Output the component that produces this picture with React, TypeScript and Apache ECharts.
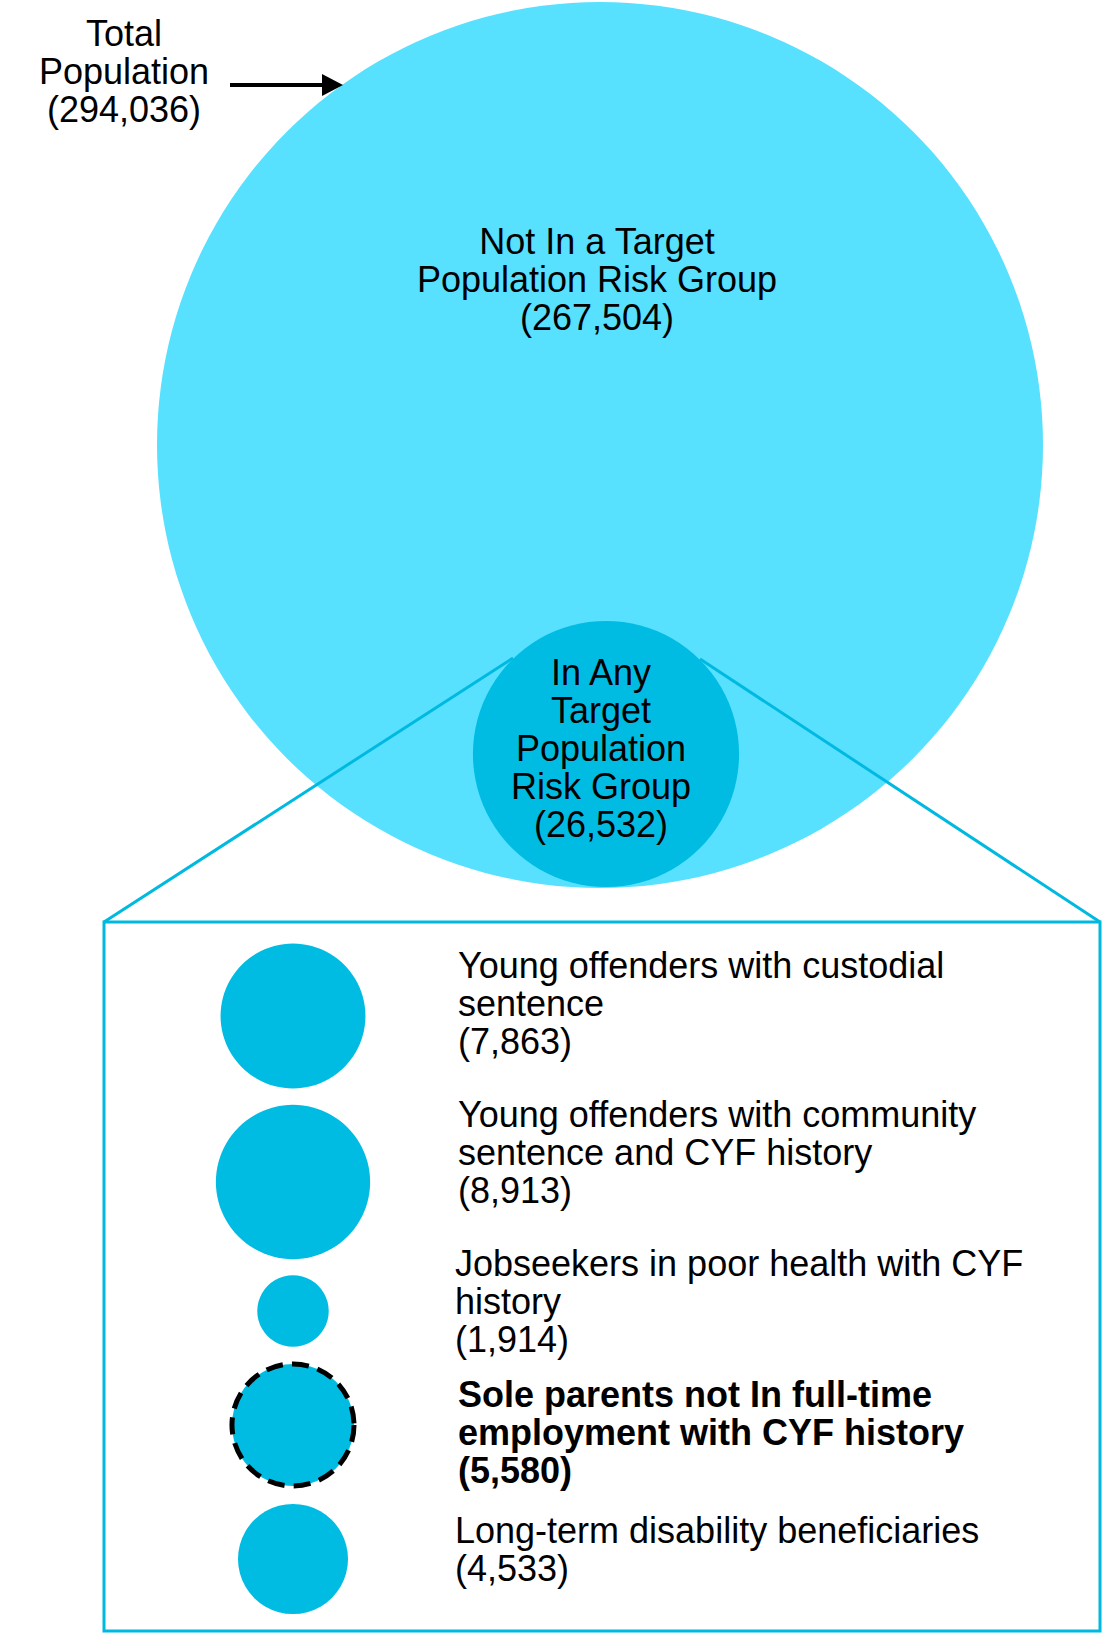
import React, { useEffect, useRef } from "react";
import * as echarts from "echarts";

// ---- data ----
const totalPopulation = 294036;
const notInTargetGroup = 267504;
const inAnyTargetGroup = 26532;
const groupLabels = [
  ["Young offenders with custodial", "sentence"],
  ["Young offenders with community", "sentence and CYF history"],
  ["Jobseekers in poor health with CYF", "history"],
  ["Sole parents not In full-time", "employment with CYF history"],
  ["Long-term disability beneficiaries"],
];
const groupValues = [7863, 8913, 1914, 5580, 4533];
const highlightedGroup = 3;

// ---- layout ----
const W = 1102;
const H = 1633;
const BIG_R = 443;
const K = BIG_R / Math.sqrt(totalPopulation);
const bigCenter = [600, 445];
const smallCenter = [606, 754];
const legendCx = 293;
const legendCy = [1016, 1182, 1311, 1425, 1559];
const legendTextX = [458, 458, 455, 458, 455];
const legendBaseline = [978, 1127, 1276, 1407, 1543];

const FS = 36;
const LH = 38;
const FONT = '"Liberation Sans", Arial, sans-serif';
const fmt = (v: number) => v.toLocaleString("en-US");

function textEl(x: number, baseline: number, lines: string[], align: string, bold = false) {
  const y = baseline - LH / 2 - 12.5;
  return {
    type: "text",
    z: 10,
    silent: true,
    style: {
      text: lines.join("\n"),
      x,
      y,
      font: `${bold ? "bold " : ""}${FS}px ${FONT}`,
      fill: "#000000",
      align,
      verticalAlign: "top",
      textAlign: align,
      textVerticalAlign: "top",
      lineHeight: LH,
    },
  };
}

export default function App() {
  const ref = useRef<HTMLDivElement>(null);
  useEffect(() => {
    if (!ref.current) return;
    const chart = echarts.init(ref.current, null, { renderer: "svg" });
    const size = (v: number[]) => 2 * K * Math.sqrt(v[2]);
    const boxColor = "#00B9E0";
    const option: any = {
      animation: false,
      grid: { left: 0, right: 0, top: 0, bottom: 0 },
      xAxis: { type: "value", min: 0, max: W, show: false },
      yAxis: { type: "value", min: 0, max: H, inverse: true, show: false },
      series: [
        {
          type: "scatter",
          z: 1,
          silent: true,
          symbol: "circle",
          symbolSize: size,
          itemStyle: { color: "#57E1FF", opacity: 1 },
          data: [[bigCenter[0], bigCenter[1], totalPopulation]],
        },
        {
          type: "scatter",
          z: 3,
          silent: true,
          symbol: "circle",
          symbolSize: size,
          itemStyle: { color: "#00BCE2", opacity: 1 },
          data: [
            { value: [smallCenter[0], smallCenter[1], inAnyTargetGroup] },
            ...groupValues.map((v, i) => ({
              value: [legendCx, legendCy[i], v],
              itemStyle:
                i === highlightedGroup
                  ? { borderColor: "#000", borderWidth: 5, borderType: [17, 9] }
                  : undefined,
            })),
          ],
        },
      ],
      graphic: [
        {
          type: "rect",
          z: 2,
          silent: true,
          shape: { x: 104, y: 922, width: 996, height: 709 },
          style: { fill: "none", stroke: boxColor, lineWidth: 3 },
        },
        {
          type: "line",
          z: 2,
          silent: true,
          shape: { x1: 104, y1: 922, x2: 513, y2: 658 },
          style: { stroke: boxColor, lineWidth: 3 },
        },
        {
          type: "line",
          z: 2,
          silent: true,
          shape: { x1: 1100, y1: 922, x2: 700, y2: 659 },
          style: { stroke: boxColor, lineWidth: 3 },
        },
        {
          type: "line",
          z: 2,
          silent: true,
          shape: { x1: 230, y1: 85, x2: 325, y2: 85 },
          style: { stroke: "#000", lineWidth: 4 },
        },
        {
          type: "polygon",
          z: 2,
          silent: true,
          shape: { points: [[322, 74], [343, 85], [322, 96]] },
          style: { fill: "#000" },
        },
        textEl(124, 46, ["Total", "Population", `(${fmt(totalPopulation)})`], "center"),
        textEl(597, 254, ["Not In a Target", "Population Risk Group", `(${fmt(notInTargetGroup)})`], "center"),
        textEl(601, 685, ["In Any", "Target", "Population", "Risk Group", `(${fmt(inAnyTargetGroup)})`], "center"),
        ...groupLabels.map((lines, i) =>
          textEl(legendTextX[i], legendBaseline[i], [...lines, `(${fmt(groupValues[i])})`], "left", i === highlightedGroup)
        ),
      ],
    };
    chart.setOption(option);
    return () => chart.dispose();
  }, []);
  return (
    <div
      ref={ref}
      style={{ position: "absolute", left: 0, top: 0, width: W, height: H, background: "#fff" }}
    />
  );
}
